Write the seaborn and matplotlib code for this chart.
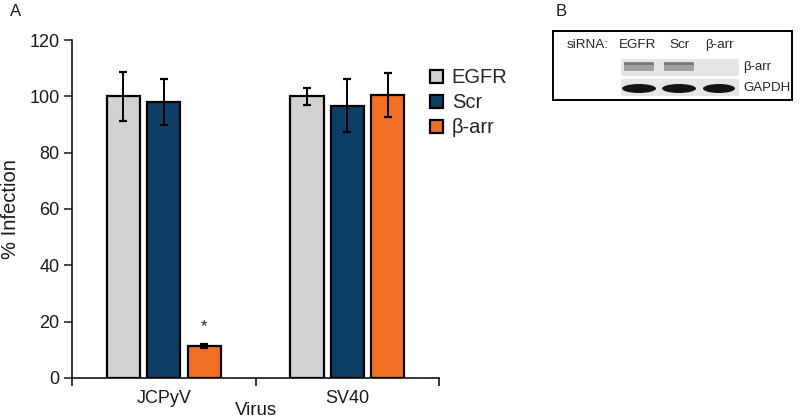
import matplotlib
matplotlib.use("Agg")
import matplotlib.pyplot as plt
import seaborn as sns
import pandas as pd
import numpy as np
from matplotlib.patches import Rectangle, Ellipse

viruses = ["JCPyV", "SV40"]
sirnas = ["EGFR", "Scr", "β-arr"]
values_jcpyv = [100.0, 98.0, 11.2]
errors_jcpyv = [8.6, 8.0, 0.7]
values_sv40 = [100.0, 96.7, 100.5]
errors_sv40 = [3.1, 9.5, 7.8]
colors = ["#d1d2d4", "#0d3f66", "#f26f24"]
yticks = [0, 20, 40, 60, 80, 100, 120]

rows = []
for v, vals, errs in [("JCPyV", values_jcpyv, errors_jcpyv), ("SV40", values_sv40, errors_sv40)]:
    for s, val, e in zip(sirnas, vals, errs):
        rows.append({"Virus": v, "siRNA": s, "value": val, "err": e})
df = pd.DataFrame(rows)

sns.set_theme(style="white")
plt.rcParams['font.family'] = ['Liberation Sans', 'DejaVu Sans']

fig = plt.figure(figsize=(8.0, 4.19), dpi=100)
ax = fig.add_axes([0.09, 0.0979, 0.459, 0.8066])

sns.barplot(data=df, x="Virus", y="value", hue="siRNA", order=viruses,
            hue_order=sirnas, palette=colors, saturation=1, errorbar=None, width=0.66,
            gap=0.18, edgecolor="black", linewidth=1.6, ax=ax, legend=True)

# error bars from bar positions
for cont, s in zip(ax.containers, sirnas):
    sub = df[df["siRNA"] == s].set_index("Virus").loc[viruses]
    xs = [p.get_x() + p.get_width() / 2 for p in cont.patches]
    hs = [p.get_height() for p in cont.patches]
    ax.errorbar(xs, hs, yerr=sub["err"].values, fmt="none", ecolor="black",
                elinewidth=1.4, capsize=3.2, capthick=1.6, zorder=5)
    if s == "β-arr":
        ax.text(xs[0], hs[0] + sub["err"].values[0] + 3.5, "*", ha="center",
                va="bottom", fontsize=12, color="#222222")

ax.set_xlim(-0.5, 1.5)
ax.set_ylim(0, 120)
ax.set_yticks(yticks)
ax.set_yticklabels([str(t) for t in yticks], fontsize=13)
ax.set_xticks([0, 1])
ax.set_xticklabels(viruses, fontsize=13)
ax.set_xticks([-0.5, 0.5, 1.5], minor=True)
ax.tick_params(axis="x", which="major", length=0, pad=9, colors="#1a1a1a")
ax.tick_params(axis="x", which="minor", length=6, width=1.1, direction="out", bottom=True, color="black")
ax.tick_params(axis="y", which="major", length=6, width=1.1, direction="out", left=True, pad=3, colors="#1a1a1a")
for sp in ["top", "right"]:
    ax.spines[sp].set_visible(False)
for sp in ["left", "bottom"]:
    ax.spines[sp].set_linewidth(1.1)
    ax.spines[sp].set_color("black")
ax.set_xlabel("Virus", fontsize=13.5, color="#1a1a1a", labelpad=-4)
ax.set_ylabel("% Infection", fontsize=14.5, color="#1a1a1a")
ax.yaxis.set_label_coords(-0.142, 0.5)

leg = ax.legend(loc="upper left", bbox_to_anchor=(0.952, 0.94), frameon=False,
                fontsize=14.5, handlelength=0.65, handleheight=0.65,
                handletextpad=0.45, labelspacing=0.3, borderaxespad=0)
for h in leg.legend_handles:
    h.set_edgecolor("black")
    h.set_linewidth(1.6)

fig.text(10 / 800, 1 - 12 / 419, "A", fontsize=12, va="center", ha="left", color="#1a1a1a")
fig.text(556 / 800, 1 - 12 / 419, "B", fontsize=12, va="center", ha="left", color="#1a1a1a")

# Panel B: western blot drawn in inset axes (pixel coordinates)
bx = fig.add_axes([553 / 800, 1 - 100 / 419, (792 - 553) / 800, (100 - 31) / 419])
bx.set_xlim(553, 792)
bx.set_ylim(100, 31)
bx.set_xticks([])
bx.set_yticks([])
for sp in bx.spines.values():
    sp.set_linewidth(1.4)
    sp.set_color("black")
bx.set_facecolor("white")
bx.text(567, 45, "siRNA:", fontsize=9.7, va="center", ha="left")
for lbl, cx in zip(sirnas, [638, 680, 719]):
    bx.text(cx, 45, lbl, fontsize=9.7, va="center", ha="center")
bx.add_patch(Rectangle((621, 59), 118, 17, facecolor="#e6e6e6", edgecolor="none"))
bx.add_patch(Rectangle((621, 79), 118, 17, facecolor="#e6e6e6", edgecolor="none"))
for cx in [639, 679]:
    bx.add_patch(Rectangle((cx - 15, 63), 30, 8, facecolor="#8a8a8a", edgecolor="none", alpha=0.75))
    bx.add_patch(Rectangle((cx - 15, 62), 30, 3, facecolor="#6a6a6a", edgecolor="none", alpha=0.7))
for cx, w in zip([639, 679, 719], [34, 34, 32]):
    bx.add_patch(Ellipse((cx, 88.5), w, 9, facecolor="#141414", edgecolor="none"))
bx.text(743, 67, "β-arr", fontsize=9.5, va="center", ha="left")
bx.text(743, 88, "GAPDH", fontsize=9.5, va="center", ha="left")

fig.savefig("out.png", dpi=100)
